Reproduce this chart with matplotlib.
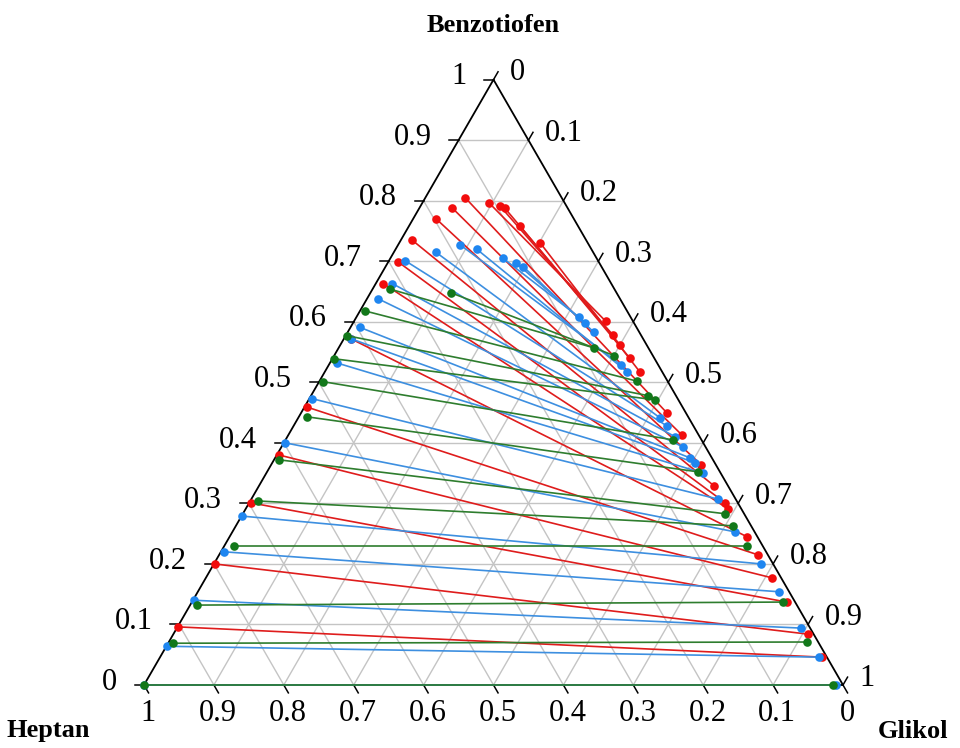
import numpy as np
import matplotlib
matplotlib.use("Agg")
import matplotlib.pyplot as plt

# Tie-line end points as mass fractions: B = Benzotiofen, G = Glikol (Heptan = 1 - B - G)
# "raf" = heptane-rich phase, "ext" = glycol-rich phase
red_raf_b = [0.796, 0.791, 0.788, 0.758, 0.730, 0.805, 0.788, 0.770, 0.735, 0.699,
             0.663, 0.572, 0.459, 0.380, 0.301, 0.200, 0.096]
red_raf_g = [0.096, 0.114, 0.122, 0.159, 0.202, 0.057, 0.047, 0.033, 0.016, 0.014,
             0.011, 0.010, 0.004, 0.003, 0.002, 0.001, 0.001]
red_ext_b = [0.601, 0.578, 0.562, 0.540, 0.517, 0.449, 0.413, 0.364, 0.329, 0.301,
             0.291, 0.245, 0.215, 0.177, 0.137, 0.084, 0.046]
red_ext_g = [0.360, 0.382, 0.400, 0.425, 0.451, 0.524, 0.563, 0.615, 0.651, 0.681,
             0.690, 0.740, 0.771, 0.810, 0.851, 0.908, 0.947]

blue_raf_b = [0.705, 0.697, 0.691, 0.727, 0.720, 0.715, 0.701, 0.663, 0.638, 0.591,
              0.572, 0.532, 0.473, 0.400, 0.279, 0.220, 0.140, 0.064, 0.000]
blue_raf_g = [0.161, 0.184, 0.197, 0.089, 0.116, 0.060, 0.023, 0.024, 0.016, 0.013,
              0.010, 0.010, 0.004, 0.002, 0.001, 0.005, 0.001, 0.001, 0.000]
blue_ext_b = [0.608, 0.598, 0.583, 0.529, 0.517, 0.441, 0.428, 0.410, 0.393, 0.375,
              0.367, 0.350, 0.307, 0.253, 0.200, 0.154, 0.094, 0.046, 0.000]
blue_ext_g = [0.318, 0.332, 0.352, 0.418, 0.433, 0.518, 0.534, 0.555, 0.575, 0.594,
              0.605, 0.625, 0.668, 0.719, 0.783, 0.832, 0.893, 0.943, 0.990]

green_raf_b = [0.654, 0.648, 0.618, 0.577, 0.539, 0.501, 0.443, 0.372, 0.304, 0.230,
               0.132, 0.069, 0.000]
green_raf_g = [0.025, 0.115, 0.007, 0.002, 0.002, 0.006, 0.012, 0.007, 0.011, 0.014,
               0.010, 0.007, 0.000]
green_ext_b = [0.557, 0.544, 0.502, 0.478, 0.471, 0.405, 0.352, 0.283, 0.263, 0.230,
               0.137, 0.071, 0.000]
green_ext_g = [0.365, 0.401, 0.454, 0.482, 0.496, 0.554, 0.617, 0.689, 0.711, 0.748,
               0.846, 0.913, 0.985]

tick_values = [0.0, 0.1, 0.2, 0.3, 0.4, 0.5, 0.6, 0.7, 0.8, 0.9, 1.0]
tick_labels = ["0", "0.1", "0.2", "0.3", "0.4", "0.5", "0.6", "0.7", "0.8", "0.9", "1"]

title_top = "Benzotiofen"
title_left = "Heptan"
title_right = "Glikol"

SQ3 = np.sqrt(3) / 2


def tern(b, g):
    b = np.asarray(b, float)
    g = np.asarray(g, float)
    return g + b / 2, b * SQ3


plt.rcParams["font.family"] = ["Liberation Serif", "DejaVu Serif"]

fig = plt.figure(figsize=(9.6, 7.48), dpi=100)
ax = fig.add_axes([0, 0, 1, 1])
scale = 699.0
ax.set_xlim(-144 / scale, (960 - 144) / scale)
ax.set_ylim(-(748 - 685) / scale, 685 / scale)
ax.set_aspect("equal")
ax.axis("off")

grid_col = "#c4c4c4"
for v in tick_values[1:-1]:
    # constant Benzotiofen
    x, y = tern([v, v], [0, 1 - v])
    ax.plot(x, y, color=grid_col, lw=1.0, zorder=1)
    # constant Glikol
    x, y = tern([0, 1 - v], [v, v])
    ax.plot(x, y, color=grid_col, lw=1.0, zorder=1)
    # constant Heptan
    x, y = tern([0, 1 - v], [1 - v, 0])
    ax.plot(x, y, color=grid_col, lw=1.0, zorder=1)

# triangle frame
x, y = tern([0, 0, 1, 0], [0, 1, 0, 0])
ax.plot(x, y, color="black", lw=1.3, zorder=2, solid_capstyle="butt")

tl = 0.013
fs_tick = 22
for v, lab in zip(tick_values, tick_labels):
    # left axis: Benzotiofen
    x0, y0 = tern(v, 0)
    ax.plot([x0, x0 - tl], [y0, y0], color="black", lw=1.1, zorder=2)
    ax.text(x0 - 0.038, y0 + 0.004, lab, ha="right", va="center", fontsize=fs_tick)
    # right axis: Glikol
    x0, y0 = tern(1 - v, v)
    ax.plot([x0, x0 + tl * 0.5], [y0, y0 + tl * SQ3], color="black", lw=1.1, zorder=2)
    ax.text(x0 + 0.024, y0 + 0.010, lab, ha="left", va="center", fontsize=fs_tick)
    # bottom axis: Heptan
    x0, y0 = tern(0, 1 - v)
    ax.plot([x0, x0 + tl * 0.5], [y0, y0 - tl * SQ3], color="black", lw=1.1, zorder=2)
    ax.text(x0 + 0.006, y0 - 0.041, lab, ha="center", va="center", fontsize=fs_tick)

fs_title = 19
ax.text(0.5, (685 - 25) / scale, title_top, ha="center", va="center",
        fontsize=fs_title, fontweight="bold")
ax.text((48 - 144) / scale, (685 - 731) / scale, title_left, ha="center", va="center",
        fontsize=fs_title, fontweight="bold")
ax.text((913 - 144) / scale, (685 - 731) / scale, title_right, ha="center", va="center",
        fontsize=fs_title, fontweight="bold")

series = [
    (red_raf_b, red_raf_g, red_ext_b, red_ext_g, "#df1c1c", "#f20d0d"),
    (blue_raf_b, blue_raf_g, blue_ext_b, blue_ext_g, "#3d8fe0", "#1f86f0"),
    (green_raf_b, green_raf_g, green_ext_b, green_ext_g, "#2e7d2e", "#12781a"),
]
z = 3
for rb, rg, eb, eg, lc, mc in series:
    xr, yr = tern(rb, rg)
    xe, ye = tern(eb, eg)
    for i in range(len(xr)):
        ax.plot([xr[i], xe[i]], [yr[i], ye[i]], color=lc, lw=1.2, zorder=z)
    ax.plot(xr, yr, "o", color=mc, ms=6.2, mec="none", zorder=z + 0.5)
    ax.plot(xe, ye, "o", color=mc, ms=6.2, mec="none", zorder=z + 0.5)
    z += 1

fig.savefig("out.png", dpi=100)
